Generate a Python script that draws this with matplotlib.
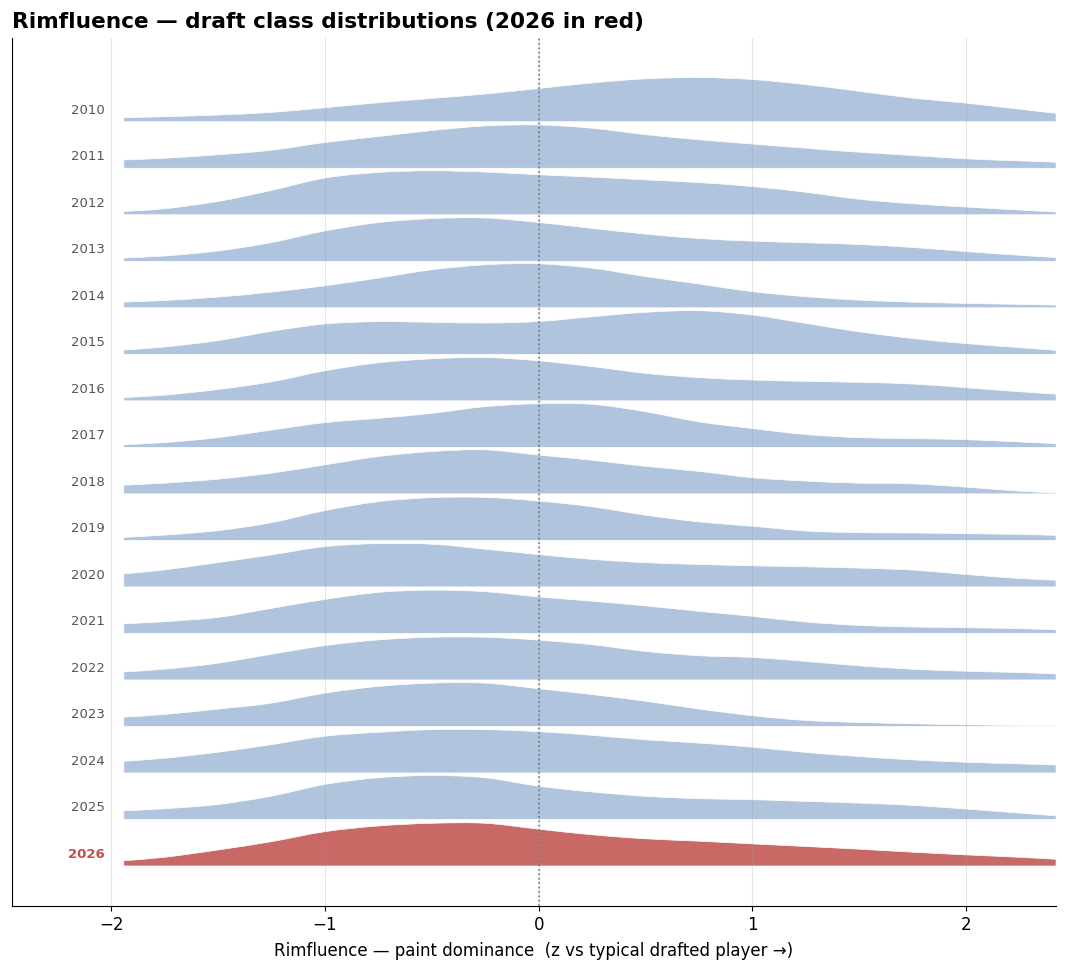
import numpy as np
import matplotlib
matplotlib.use("Agg")
import matplotlib.pyplot as plt
from matplotlib.path import Path
from matplotlib.patches import PathPatch

years = list(range(2010, 2027))
highlight = 2026

# x positions where the ridge heights were read
xs = [-1.94, -1.75, -1.5, -1.25, -1.0, -0.75, -0.5, -0.25, 0.0, 0.25,
      0.5, 0.75, 1.0, 1.25, 1.5, 1.75, 2.0, 2.25, 2.42]

# ridge heights (relative density, arbitrary units)
h2010 = [4, 5, 6.7, 9.3, 14, 19, 23.3, 27.7, 33.2, 38.8, 42.9, 44.2, 42.2, 37.1, 30.4, 23.6, 18.6, 12.5, 8.4]
h2011 = [8.3, 10, 13.5, 18, 25.7, 31.7, 37.7, 42.3, 43.3, 40, 33.6, 28.5, 24.2, 20, 16, 12.8, 9.4, 7.4, 6]
h2012 = [3.3, 6, 13.3, 24.3, 36.7, 42.3, 44, 42.7, 40, 37.6, 34.9, 32.2, 28.2, 22.5, 15.5, 11, 7.7, 4.7, 2.7]
h2013 = [3.3, 5.3, 10.3, 18.7, 30.3, 38.7, 42.7, 43.3, 38.8, 32.9, 27.2, 22.8, 20.1, 18.5, 16.8, 13.8, 9.7, 6, 3.7]
h2014 = [5.7, 7.3, 10.7, 15.7, 22, 29.7, 38, 43, 44, 39.6, 31.2, 23.8, 16.1, 11.1, 7.7, 5.7, 4.4, 3.4, 2.7]
h2015 = [4.3, 7.3, 13.7, 23, 30.3, 32.7, 32, 31.3, 32.8, 37.6, 42, 43.6, 39.3, 30.9, 22.5, 15.8, 10.7, 6.7, 4]
h2016 = [3.3, 5.7, 11.3, 19, 30, 38, 42, 43.3, 40, 34.2, 27.5, 23.2, 20.8, 19.5, 18.5, 16.8, 13.1, 9.1, 6.7]
h2017 = [2.7, 4.7, 9.7, 17.3, 24.7, 29, 34, 40.7, 43.6, 43, 35.6, 25.5, 18.8, 12.8, 9.7, 8.7, 7.7, 5.4, 3.7]
h2018 = [8.7, 10.7, 14.7, 20.7, 29, 37.3, 42.3, 44, 38.8, 33.6, 27.5, 22.5, 16.1, 12.8, 10.7, 10, 6.7, 2.7, 1]
h2019 = [3, 5.3, 9.7, 17.7, 29.7, 38.7, 42.7, 43, 39.3, 33.6, 25.2, 18.5, 14.1, 9.4, 7.7, 7.4, 6.7, 6, 5]
h2020 = [13, 17, 24.3, 32, 40.3, 43.3, 42.7, 37.7, 32.3, 27.5, 24.2, 22.5, 21.1, 20.1, 18.8, 16.8, 12.4, 8.4, 6.7]
h2021 = [9.7, 11.7, 16, 25, 34, 41, 43.3, 41.7, 36.5, 32.2, 27.5, 22.1, 17.1, 11.4, 8, 6.4, 5.7, 4.7, 3.7]
h2022 = [8, 10.7, 16.7, 25.7, 34.3, 40, 42.7, 42.7, 39.8, 35.2, 28.5, 24.2, 22.5, 18.5, 14.1, 10.7, 8.7, 7.4, 6]
h2023 = [9.3, 12, 17.3, 23.3, 33.3, 40, 43.3, 43.3, 37.7, 31.9, 25.2, 17.4, 10.7, 6, 4, 2.7, 1.7, 1, 0.7]
h2024 = [11.7, 14.7, 20.7, 28.3, 36.7, 40.7, 43.3, 43.3, 41.3, 37.6, 33.2, 29.9, 25.8, 20.5, 16.4, 13.1, 10.7, 9.1, 8]
h2025 = [8.7, 10.7, 15, 23.3, 35, 41.7, 44, 41.7, 33.3, 27.5, 23.2, 20.8, 19.8, 18.1, 16.4, 14.1, 10.4, 6.4, 3.7]
h2026 = [5.3, 8.7, 16, 24.3, 34.3, 40, 42.7, 42.7, 36.8, 31.2, 27.2, 24.8, 22.1, 19.5, 16.8, 13.8, 11.1, 8.7, 6.7]

ridges = [h2010, h2011, h2012, h2013, h2014, h2015, h2016, h2017, h2018,
          h2019, h2020, h2021, h2022, h2023, h2024, h2025, h2026]

SCALE = 1 / 46.5  # ridge height relative to row spacing
BLUE = "#b0c4de"
RED = "#c86966"


def ridge_path(x, base, top):
    # closed path: baseline straight, top edge as smooth bezier through the points
    pts = np.column_stack([x, top])
    padded = np.vstack([pts[0], pts, pts[-1]])
    verts = [(x[0], base), tuple(pts[0])]
    codes = [Path.MOVETO, Path.LINETO]
    for i in range(len(pts) - 1):
        p0, p1, p2, p3 = padded[i], padded[i + 1], padded[i + 2], padded[i + 3]
        c1 = p1 + (p2 - p0) / 6
        c2 = p2 - (p3 - p1) / 6
        verts += [tuple(c1), tuple(c2), tuple(p2)]
        codes += [Path.CURVE4] * 3
    verts += [(x[-1], base), (x[0], base)]
    codes += [Path.LINETO, Path.CLOSEPOLY]
    return Path(verts, codes)


fig = plt.figure(figsize=(10.67, 9.72), dpi=100)
ax = fig.add_axes([0.01125, 0.0679, 0.9785, 0.893])

n = len(years)
for i, (yr, h) in enumerate(zip(years, ridges)):
    base = n - 1 - i
    top = base + np.array(h) * SCALE
    col = RED if yr == highlight else BLUE
    patch = PathPatch(ridge_path(np.array(xs), base, top), facecolor=col,
                      edgecolor="white", linewidth=0.5, zorder=1)
    ax.add_patch(patch)
    if yr == highlight:
        ax.text(-2.03, base + 0.25, str(yr), ha="right", va="center",
                fontsize=9.5, fontweight="bold", color="#c0504d")
    else:
        ax.text(-2.03, base + 0.25, str(yr), ha="right", va="center",
                fontsize=9.5, color="#555555")

ax.axvline(0, color="#777777", linestyle=":", linewidth=1.2, zorder=3)

ax.set_xlim(-2.463, 2.42)
ax.set_ylim(-0.86, n - 1 + 1.8)
ax.set_xticks([-2, -1, 0, 1, 2])
ax.set_yticks([])
ax.tick_params(axis="x", labelsize=12)
ax.grid(axis="x", color="#999999", alpha=0.25, linewidth=0.8)

ax.spines["top"].set_visible(False)
ax.spines["right"].set_visible(False)

ax.set_xlabel("Rimfluence — paint dominance  (z vs typical drafted player →)",
              fontsize=12, labelpad=6)
ax.set_title("Rimfluence — draft class distributions (2026 in red)",
             loc="left", fontsize=15.6, fontweight="bold", pad=7)

fig.savefig("out.png", dpi=100)
